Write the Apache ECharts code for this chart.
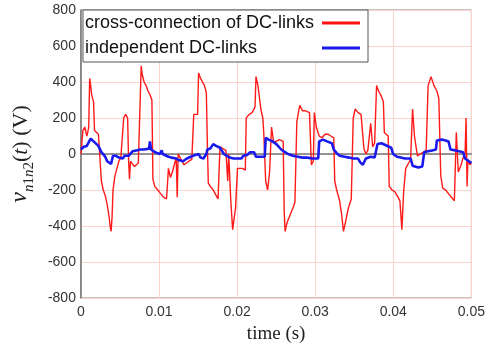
<!DOCTYPE html>
<html>
<head>
<meta charset="utf-8">
<script src="https://cdn.jsdelivr.net/npm/echarts@6/dist/echarts.min.js"></script>
<style>
  html, body { margin: 0; padding: 0; background: #fff; }
  #chart { width: 488px; height: 349px; }
</style>
</head>
<body>
<div id="chart"></div>
<script>
// time in ms, voltage in V
const redT = [0, 0.12, 0.25, 0.50, 0.75, 0.87, 1.00, 1.12, 1.25, 1.37, 1.49, 1.62, 1.74, 1.99, 2.24, 2.49,
  2.62, 2.86, 3.11, 3.36, 3.61, 3.74, 3.86, 3.99, 4.11, 4.36, 4.61, 4.86, 5.11, 5.35, 5.48, 5.73, 5.98,
  6.10, 6.22, 6.35, 6.60, 6.85, 7.10, 7.35, 7.60, 7.72, 7.85, 8.09, 8.34, 8.59, 8.84, 9.09, 9.22, 9.46,
  9.84, 10.21, 10.59, 10.96, 11.08, 11.21, 11.46, 11.71, 11.96, 12.20, 12.33, 12.45, 12.70, 12.95, 13.20,
  13.45, 13.82, 14.20, 14.45, 14.69, 14.94, 15.07, 15.32, 15.57, 15.82, 16.06, 16.19, 16.31, 16.56, 16.94,
  17.31, 17.56, 17.81, 18.18, 18.56, 18.80, 18.93, 19.18, 19.43, 19.55, 19.80, 20.05, 20.30, 20.67, 21.05,
  21.17, 21.54, 21.92, 22.29, 22.42, 22.67, 23.04, 23.29, 23.41, 23.66, 23.91, 24.16, 24.41, 24.66, 25.03,
  25.40, 25.90, 26.03, 26.15, 26.40, 26.77, 27.15, 27.40, 27.65, 28.02, 28.39, 28.77, 29.27, 29.51, 29.76,
  29.89, 30.14, 30.51, 30.88, 31.26, 31.63, 32.00, 32.38, 32.50, 32.75, 33.13, 33.37, 33.62, 33.87, 34.25,
  34.62, 34.87, 35.12, 35.49, 35.87, 36.11, 36.24, 36.49, 36.74, 36.99, 37.11, 37.36, 37.61, 37.86, 38.11,
  38.48, 38.73, 38.85, 39.10, 39.35, 39.48, 39.85, 40.22, 40.60, 40.85, 41.10, 41.34, 41.59, 41.97, 42.22,
  42.47, 42.71, 43.09, 43.46, 43.84, 44.21, 44.46, 44.83, 45.21, 45.58, 45.83, 46.08, 46.33, 46.70, 47.07,
  47.45, 47.82, 48.07, 48.32, 48.69, 48.94, 49.19, 49.32, 49.45, 49.56, 49.81, 50.0];
const redV = [0, 60, 130, 150, 100, 120, 150, 420, 380, 330, 310, 290, 130, 120, 110, 100,
  -150, -200, -230, -280, -350, -400, -430, -350, -200, -120, -80, -40, -20, -10, 200, 220, 200,
  -30, -140, -40, -50, -70, -60, -50, -40, 490, 440, 400, 380, 350, 330, 300, -140, -180,
  -200, -220, -240, -250, -260, -80, -130, -100, -60, -20, -240, 0, -20, -40, -60,
  -50, -40, -30, 220, 230, 220, 450, 420, 400, 380, 340, 60, -160, -180, -200,
  -230, -250, 40, 30, 20, -150, 0, -250, -420, -380, -300, -80, -70, -80, -90,
  200, 220, 230, 260, 430, 380, 250, 200, 120, -150, -200, -100, 150, 70, 70,
  80, 70, -320, -430, -380, -340, -300, -270, 180, 270, 240, 240, 230, -60, -40,
  230, 150, 100, 90, 110, 110, 100, 90, -150, -200, -260, -330, -430, -380, -300,
  -250, 200, 250, 230, 220, 230, 30, 0, 20, 10, 170, 40, 60, 380, 350,
  320, 290, 120, 110, 100, -180, -200, -210, -240, -260, -420, -200, -80, -50, -30,
  250, 100, -10, 0, 10, 20, 380, 430, 380, 350, 310, -120, -190, -200, -220,
  -240, -260, 120, -100, -60, -20, 0, 200, -180, -30, -60, -50];

const blueT = [0, 0.37, 0.75, 1.00, 1.25, 1.49, 1.62, 1.87, 2.24, 2.49, 2.62, 2.86, 3.11, 3.36, 3.61,
  3.86, 4.11, 4.48, 4.86, 5.35, 5.60, 6.10, 6.35, 6.60, 7.10, 7.60, 8.09, 8.72, 8.84, 8.97, 9.34, 9.71,
  10.09, 10.34, 10.46, 10.71, 11.21, 11.58, 12.20, 12.58, 13.08, 13.57, 14.07, 14.69, 15.07, 15.32, 15.69,
  16.06, 16.19, 16.56, 16.94, 17.31, 17.81, 18.06, 18.31, 18.68, 19.05, 19.55, 20.05, 20.55, 20.80, 21.30,
  21.67, 22.17, 22.42, 22.91, 23.54, 23.66, 24.03, 24.53, 25.03, 25.28, 25.65, 26.15, 26.52, 27.15, 27.77,
  28.39, 29.02, 29.64, 30.39, 30.51, 31.01, 31.51, 32.13, 32.38, 32.75, 33.13, 33.75, 34.37, 34.87, 35.49,
  35.74, 36.11, 36.49, 37.11, 37.61, 37.86, 37.98, 38.48, 38.98, 39.23, 39.73, 39.98, 40.47, 40.97, 41.46,
  42.22, 42.47, 43.21, 43.71, 43.96, 44.46, 44.96, 45.46, 45.58, 46.21, 46.70, 47.07, 47.32, 47.95, 48.44,
  48.94, 49.19, 49.69, 50.0];
const blueV = [25, 40, 45, 50, 85, 80, 70, 60, 45, 40, 10, 0, -15, -40, -50,
  -55, -10, -10, -20, -25, -10, -10, -5, 15, 20, 25, 25, 30, 70, 25, 15, 5,
  0, 20, 0, -10, -15, -20, -25, -35, -40, -25, -15, -5, 0, -20, -25,
  0, 25, 30, 55, 45, 35, 25, 0, -10, -20, -25, -25, -25, -10, -5,
  10, 10, -15, -15, -15, 90, 80, 70, 55, 45, 25, 10, 0, -10, -15,
  -20, -20, -25, -25, 70, 80, 70, 60, 25, 5, -10, -15, -20, -25, -25,
  -45, -60, -25, -15, -20, -25, 55, 60, 50, 40, 35, 0, -15, -20, -25,
  -25, -65, -75, -70, 10, 15, 20, 25, 75, 80, 75, 70, 25, 20, 15,
  10, -25, -40, -50];

const xTicks = [0, 0.01, 0.02, 0.03, 0.04, 0.05];
const yTicks = [-800, -600, -400, -200, 0, 200, 400, 600, 800];

const redName = 'cross-connection of DC-links';
const blueName = 'independent DC-links';

const chart = echarts.init(document.getElementById('chart'));
const serif = '"Liberation Serif", "Times New Roman", serif';
const sans = '"Liberation Sans", Arial, sans-serif';
const gridColor = '#fbd3ca';

const option = {
  animation: false,
  backgroundColor: '#fff',
  grid: {
    left: 77,
    right: 9,
    top: 10,
    bottom: 49,
    show: true,
    borderColor: '#8a8a8a',
    borderWidth: 1
  },
  legend: {
    orient: 'vertical',
    left: 83,
    top: 10,
    align: 'right',
    icon: 'rect',
    backgroundColor: '#fff',
    borderColor: '#555',
    borderWidth: 1,
    borderRadius: 0,
    padding: [4, 8, 5, 2],
    itemGap: 7,
    itemWidth: 38,
    itemHeight: 3,
    formatter: function (name) {
      return '{a|' + name + '}'
    },
    textStyle: {
      fontFamily: sans,
      fontSize: 18,
      color: '#111',
      rich: {
        a: { fontFamily: sans, fontSize: 18, color: '#111', width: 232, align: 'left' }
      }
    },
    data: [
      { name: redName, itemStyle: { color: '#ff1010' } },
      { name: blueName, itemStyle: { color: '#1a1aee' } }
    ]
  },
  xAxis: {
    type: 'value',
    min: xTicks[0],
    max: xTicks[xTicks.length - 1],
    interval: 0.01,
    name: 'time (s)',
    nameLocation: 'middle',
    nameGap: 27,
    nameTextStyle: { fontFamily: serif, fontSize: 19, color: '#222' },
    axisLine: { show: true, lineStyle: { color: '#777', width: 1.5 } },
    axisTick: { show: false },
    axisLabel: {
      color: '#333',
      fontFamily: sans,
      fontSize: 14,
      margin: 7,
      formatter: function (v) { return String(+v.toFixed(2)) }
    },
    splitLine: { show: true, lineStyle: { color: gridColor, width: 1 } }
  },
  yAxis: {
    type: 'value',
    min: yTicks[0],
    max: yTicks[yTicks.length - 1],
    interval: 200,
    name: '{v|v}{s|n}{s1|1}{s|n}{s1|2}{p|(}{t|t}{p|) (V)}',
    nameLocation: 'middle',
    nameRotate: 90,
    nameGap: 43,
    nameTextStyle: {
      color: '#222',
      rich: {
        v: { fontFamily: serif, fontStyle: 'italic', fontSize: 24, color: '#222', verticalAlign: 'bottom', padding: [0, 0, 5, 0] },
        s: { fontFamily: serif, fontStyle: 'italic', fontSize: 15, color: '#222', verticalAlign: 'bottom' },
        s1: { fontFamily: serif, fontSize: 15, color: '#222', verticalAlign: 'bottom' },
        t: { fontFamily: serif, fontStyle: 'italic', fontSize: 22, color: '#222', verticalAlign: 'bottom', padding: [0, 0, 5, 0] },
        p: { fontFamily: serif, fontSize: 22, color: '#222', verticalAlign: 'bottom', padding: [0, 0, 5, 0] }
      }
    },
    axisLine: { show: true, lineStyle: { color: '#777', width: 1.5 } },
    axisTick: { show: false },
    axisLabel: {
      color: '#333',
      fontFamily: sans,
      fontSize: 14,
      margin: 5
    },
    splitLine: { show: true, lineStyle: { color: gridColor, width: 1 } }
  },
  series: [
    {
      name: redName,
      type: 'line',
      symbol: 'none',
      smooth: false,
      data: redT.map((t, i) => [t / 1000, redV[i]]),
      lineStyle: { color: '#ff1a1a', width: 1.4 },
      itemStyle: { color: '#ff1a1a' },
      z: 2
    },
    {
      name: blueName,
      type: 'line',
      symbol: 'none',
      smooth: false,
      data: blueT.map((t, i) => [t / 1000, blueV[i]]),
      lineStyle: { color: '#1a1aee', width: 2.6 },
      itemStyle: { color: '#1a1aee' },
      z: 3
    }
  ]
};

chart.setOption(option);
window.onresize = () => {
  chart.resize();
};
</script>
</body>
</html>
